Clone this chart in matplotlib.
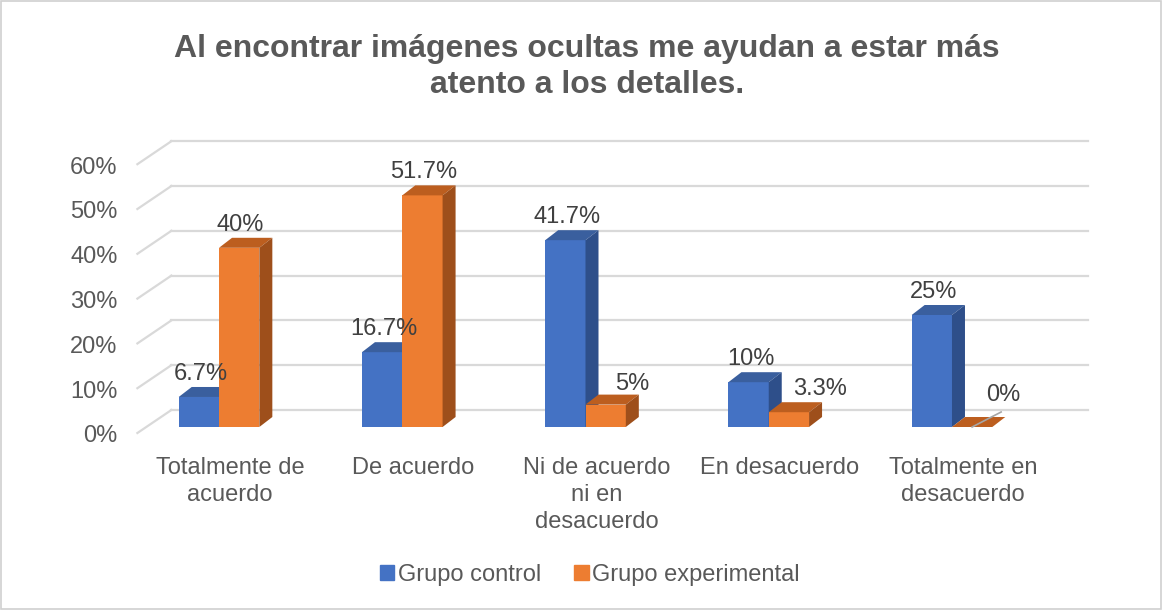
import matplotlib
matplotlib.use("Agg")
import matplotlib.pyplot as plt
from matplotlib.patches import Polygon, Patch, Rectangle
from matplotlib.transforms import ScaledTranslation

plt.rcParams['font.family'] = ['Liberation Sans', 'DejaVu Sans']

# datos del gráfico
categorias = ["Totalmente de\nacuerdo", "De acuerdo", "Ni de acuerdo\nni en\ndesacuerdo",
              "En desacuerdo", "Totalmente en\ndesacuerdo"]
grupo_control = [6.7, 16.7, 41.7, 10, 25]
grupo_experimental = [40, 51.7, 5, 3.3, 0]
etiquetas_control = ["6.7%", "16.7%", "41.7%", "10%", "25%"]
etiquetas_experimental = ["40%", "51.7%", "5%", "3.3%", "0%"]
ticks_y = [0, 10, 20, 30, 40, 50, 60]

W, H = 1163, 610
fig = plt.figure(figsize=(W / 100, H / 100), dpi=100)

# ejes del plano frontal de las barras (en pixeles de la imagen)
ax_l, ax_r, ax_b, ax_t = 127.4, 1043.6, 427.0, 158.2
ax = fig.add_axes([ax_l / W, (H - ax_b) / H, (ax_r - ax_l) / W, (ax_b - ax_t) / H])
ax.set_xlim(-0.5, 4.5)
ax.set_ylim(0, 60)
ax.axis('off')

ux = (ax_r - ax_l) / 5.0     # px por unidad x
uy = (ax_b - ax_t) / 60.0    # px por 1 %


def px(dx, dy):
    return dx / ux, dy / uy


def offset(dx, dy):
    return ax.transData + ScaledTranslation(dx / 100, dy / 100, fig.dpi_scale_trans)


# pared del fondo: lineas de cuadricula y diagonales del piso
gris = '#d9d9d9'
bx, by = px(44, 17)
fx, fy = px(10, -6)
for v in ticks_y:
    ax.plot([-0.5 + bx, 4.5 + bx], [v + by, v + by], color=gris, lw=1.6, zorder=0, clip_on=False)
    ax.plot([-0.5 + fx, -0.5 + bx], [v + fy, v + by], color=gris, lw=1.6, zorder=0, clip_on=False)
    ax.text(-0.5, v, f"{v}%", transform=offset(-10, -9.5), ha='right', va='center',
            fontsize=17, color='#595959')

# barras pseudo-3D
w = 0.22
ddx, ddy = px(13, 10)
colores = {
    'control': ('#4472C4', '#3A5F9E', '#2E4F8A'),
    'experimental': ('#ED7D31', '#BC5E1F', '#9E4F1B'),
}


def barra(x0, h, cols, z):
    frente, arriba, lado = cols
    ax.bar(x0, h, width=w, align='edge', color=frente, zorder=z, lw=0)
    ax.add_patch(Polygon([(x0, h), (x0 + w, h), (x0 + w + ddx, h + ddy), (x0 + ddx, h + ddy)],
                         closed=True, fc=arriba, ec='none', zorder=z, clip_on=False))
    if h > 0:
        ax.add_patch(Polygon([(x0 + w, 0), (x0 + w, h), (x0 + w + ddx, h + ddy), (x0 + w + ddx, ddy)],
                             closed=True, fc=lado, ec='none', zorder=z, clip_on=False))


for i in range(len(categorias)):
    barra(i - w, grupo_control[i], colores['control'], 2)
    barra(i, grupo_experimental[i], colores['experimental'], 3)

# etiquetas de valor (desplazamientos manuales como en el original)
ajuste_exp = [(0, 0), (0, 0), (26, -2), (30, 0), (30, 9)]
for i in range(len(categorias)):
    ax.text(i - w / 2, grupo_control[i] + ddy, etiquetas_control[i], transform=offset(2, 13),
            ha='center', va='center', fontsize=17, color='#404040', zorder=5)
    ddx_, ddy_ = ajuste_exp[i]
    ax.text(i + w / 2, grupo_experimental[i] + ddy, etiquetas_experimental[i],
            transform=offset(1 + ddx_, 13 + ddy_),
            ha='center', va='center', fontsize=17, color='#404040', zorder=5)

# linea guia de la etiqueta 0%
i0 = grupo_experimental.index(0)
ax.plot([i0 + w / 2, i0 + w / 2 + px(29, 0)[0]], [0, px(0, 15)[1]], color='#a6a6a6', lw=1.2,
        zorder=6, clip_on=False)

# etiquetas de categorias
for i, c in enumerate(categorias):
    ax.text(i, 0, c, transform=offset(11, -29.5), ha='center', va='top', fontsize=17,
            color='#595959', linespacing=1.3)

fig.text(587 / W, 1 - 67 / H, "Al encontrar imágenes ocultas me ayudan a estar más\natento a los detalles.",
         ha='center', va='center', fontsize=23, fontweight='bold', color='#595959', linespacing=1.3)

handles = [Patch(color=colores['control'][0]), Patch(color=colores['experimental'][0])]
fig.legend(handles, ["Grupo control", "Grupo experimental"], loc='center',
           bbox_to_anchor=(590 / W, 1 - 575 / H), ncol=2, frameon=False, fontsize=17,
           handlelength=0.6, handleheight=0.6, handletextpad=0.15, columnspacing=1.4,
           labelcolor='#595959')

fig.add_artist(Rectangle((0.001, 0.002), 0.997, 0.996, transform=fig.transFigure, fill=False,
                         ec='#d0d0d0', lw=1.2))

fig.savefig('out.png', dpi=100)
